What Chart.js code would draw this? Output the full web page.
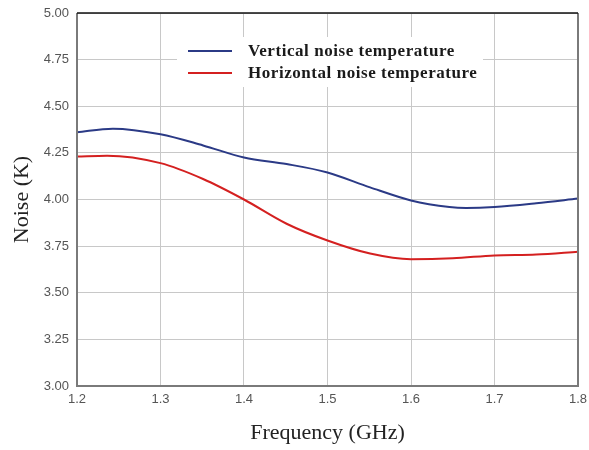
<!DOCTYPE html>
<html>
<head>
<meta charset="utf-8">
<script src="https://cdn.jsdelivr.net/npm/chart.js@4.4.1/dist/chart.umd.min.js"></script>
<style>
html,body{margin:0;padding:0;background:#fff;}
#wrap{width:589px;height:450px;position:relative;}
</style>
</head>
<body>
<div id="wrap"><canvas id="c" width="589" height="450"></canvas></div>
<script>
const freqs = [1.2, 1.243, 1.3, 1.351, 1.4, 1.451, 1.5, 1.551, 1.6, 1.646, 1.666, 1.7, 1.75, 1.8];
const verticalNoise = [4.36, 4.38, 4.35, 4.29, 4.225, 4.19, 4.145, 4.065, 3.995, 3.96, 3.955, 3.96, 3.98, 4.005];
const freqsH = [1.2, 1.236, 1.3, 1.351, 1.4, 1.451, 1.5, 1.551, 1.6, 1.65, 1.7, 1.75, 1.8];
const horizontalNoise = [4.23, 4.235, 4.195, 4.11, 4.00, 3.87, 3.78, 3.71, 3.68, 3.685, 3.70, 3.705, 3.72];
const seriesLabels = ['Vertical noise temperature', 'Horizontal noise temperature'];
const seriesColors = ['#2b3a86', '#d42020'];
const xTitle = 'Frequency (GHz)';
const yTitle = 'Noise (K)';

const toPts = (xs, ys) => xs.map((x, i) => ({x: x, y: ys[i]}));

const frameAndLegend = {
  id: 'frameAndLegend',
  afterDraw(chart) {
    const {ctx, chartArea: a} = chart;
    ctx.save();
    ctx.strokeStyle = '#7a7a7a';
    ctx.lineWidth = 2;
    ctx.beginPath();
    ctx.moveTo(a.left, a.top); ctx.lineTo(a.left, a.bottom); ctx.lineTo(a.right, a.bottom); ctx.lineTo(a.right, a.top);
    ctx.stroke();
    ctx.strokeStyle = '#111';
    ctx.lineWidth = 1.5;
    ctx.beginPath();
    ctx.moveTo(a.left, a.top); ctx.lineTo(a.right, a.top);
    ctx.stroke();
    ctx.fillStyle = '#fff';
    ctx.fillRect(177, 37, 306, 50);
    ctx.font = 'bold 17px "Liberation Serif", "Times New Roman", serif';
    try { ctx.letterSpacing = '0.55px'; } catch (e) {}
    ctx.textBaseline = 'middle';
    ctx.textAlign = 'left';
    const rows = [51, 73];
    chart.data.datasets.forEach((ds, i) => {
      ctx.strokeStyle = ds.borderColor;
      ctx.lineWidth = 2;
      ctx.beginPath();
      ctx.moveTo(188, rows[i]); ctx.lineTo(232, rows[i]);
      ctx.stroke();
      ctx.fillStyle = '#1a1a1a';
      ctx.fillText(ds.label, 248, rows[i] + 1);
    });
    ctx.restore();
  }
};

new Chart(document.getElementById('c'), {
  type: 'line',
  data: {
    datasets: [
      {label: seriesLabels[0], data: toPts(freqs, verticalNoise), borderColor: seriesColors[0], borderWidth: 2, pointRadius: 0, cubicInterpolationMode: 'monotone', fill: false},
      {label: seriesLabels[1], data: toPts(freqsH, horizontalNoise), borderColor: seriesColors[1], borderWidth: 2, pointRadius: 0, cubicInterpolationMode: 'monotone', fill: false}
    ]
  },
  options: {
    responsive: false,
    animation: false,
    layout: {padding: {top: 13, right: 11, left: 0, bottom: 0}},
    plugins: {legend: {display: false}, tooltip: {enabled: false}},
    scales: {
      x: {
        type: 'linear', min: 1.2, max: 1.8,
        ticks: {stepSize: 0.1, callback: v => v.toFixed(1), color: '#555', padding: 6, maxRotation: 0,
                font: {family: '"Liberation Sans", Arial, sans-serif', size: 13}},
        grid: {color: '#c8c8c8', drawTicks: false, lineWidth: 1},
        border: {display: false},
        title: {display: true, text: xTitle, color: '#222', padding: {top: 4, bottom: 4},
                font: {family: '"Liberation Serif", "Times New Roman", serif', size: 22}},
        afterFit(s) { s.height = 64; s.paddingLeft = 0; s.paddingRight = 0; }
      },
      y: {
        min: 3, max: 5,
        ticks: {stepSize: 0.25, callback: v => v.toFixed(2), color: '#555', padding: 8,
                font: {family: '"Liberation Sans", Arial, sans-serif', size: 13}},
        grid: {color: '#c8c8c8', drawTicks: false, lineWidth: 1},
        border: {display: false},
        title: {display: true, text: yTitle, color: '#222', padding: {top: 9, bottom: 9},
                font: {family: '"Liberation Serif", "Times New Roman", serif', size: 22}},
        afterFit(s) { s.width = 77; s.paddingTop = 0; s.paddingBottom = 0; }
      }
    }
  },
  plugins: [frameAndLegend]
});
</script>
</body>
</html>
